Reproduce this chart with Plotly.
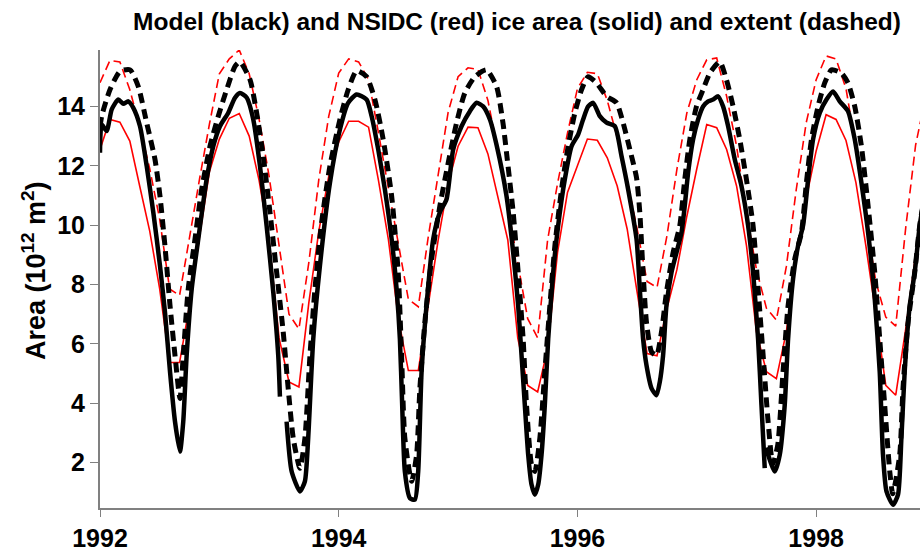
import plotly.graph_objects as go

# ---------------- NSIDC monthly data (Jan 1992 .. Dec 1998), 10^12 m^2 ----------------
nsidc_area = [
    12.55, 13.56, 13.47, 12.83, 11.3, 9.8, 7.85, 5.37, 5.37, 7.3, 9.6, 11.8,      # 1992
    12.9, 13.6, 13.76, 13.0, 11.5, 9.5, 6.2, 4.72, 4.55, 7.4, 9.8, 11.65,         # 1993
    12.8, 13.5, 13.5, 13.3, 11.5, 9.5, 6.85, 5.1, 5.1, 7.3, 9.5, 11.4,            # 1994
    12.66, 13.3, 13.28, 12.4, 10.9, 9.5, 6.2, 4.6, 4.38, 5.84, 9.08, 11.1,        # 1995
    12.0, 12.9, 12.86, 12.27, 11.32, 9.87, 7.74, 5.67, 5.6, 7.2, 8.5, 10.3,       # 1996
    11.9, 13.39, 13.28, 12.55, 11.32, 9.3, 6.4, 5.06, 4.83, 6.4, 8.9, 10.9,       # 1997
    12.5, 13.72, 13.56, 12.85, 11.43, 9.3, 7.0, 4.6, 4.27, 6.5, 9.0, 11.0,        # 1998
]
nsidc_extent = [
    14.8, 15.55, 15.5, 14.56, 13.3, 11.9, 10.2, 7.85, 7.63, 9.64, 11.54, 13.4,    # 1992
    15.1, 15.6, 15.9, 15.1, 13.56, 11.65, 9.4, 7.0, 6.5, 8.75, 11.54, 13.67,      # 1993
    15.12, 15.6, 15.5, 14.9, 13.1, 11.2, 9.3, 7.5, 7.25, 9.6, 11.7, 13.8,         # 1994
    15.0, 15.3, 15.25, 14.2, 12.5, 10.6, 8.7, 6.85, 6.2, 9.5, 11.4, 13.1,         # 1995
    14.6, 15.15, 15.1, 14.2, 12.95, 11.5, 9.87, 8.1, 7.9, 9.64, 11.88, 13.78,     # 1996
    14.9, 15.57, 15.63, 14.34, 12.66, 10.4, 8.5, 7.2, 6.8, 8.6, 11.2, 13.45,      # 1997
    14.9, 15.7, 15.6, 14.6, 12.6, 10.2, 8.1, 6.9, 6.6, 9.9, 12.7, 14.3,           # 1998
]
nsidc_month = list(range(len(nsidc_area)))  # months since Jan 1992

# ---------------- Model (months since Jan 1992, value), three run segments ----------------
model_area_m1 = [0.0, 0.17, 0.67, 1.18, 1.84, 2.34, 2.84, 3.35, 4.02, 4.69, 5.36, 6.03, 6.53,
                 7.04, 7.54, 8.04, 8.37, 8.71, 9.22, 9.88, 10.72, 11.39, 12.06, 12.89, 13.57,
                 14.07, 14.74, 15.41, 16.08, 16.75, 17.42, 17.92, 18.09]
model_area_v1 = [12.44, 13.39, 13.17, 13.9, 14.23, 14.09, 14.17, 13.95, 13.33, 12.0, 10.43, 8.63,
                 7.07, 5.06, 3.38, 2.37, 3.38, 5.6, 7.85, 9.53, 11.54, 12.66, 13.33, 13.78, 14.29,
                 14.45, 14.3, 13.56, 12.0, 9.98, 7.74, 5.61, 4.22]

model_area_m2 = [18.76, 19.27, 20.1, 20.6, 20.93, 21.44, 22.11, 23.12, 24.12, 24.95, 25.8, 26.8,
                 27.31, 27.97, 28.64, 29.32, 29.82, 30.15, 30.38, 30.65, 31.16, 31.66, 31.99,
                 32.33, 32.83, 33.5, 34.17, 34.84, 35.51, 36.35, 37.19, 37.86, 38.52, 39.2,
                 39.87, 40.87, 41.54, 42.04, 42.38, 42.71, 43.05, 43.39, 43.72, 44.05, 44.39,
                 44.72, 45.06, 45.56, 46.06, 46.73, 47.41, 48.07, 48.57, 49.08, 49.58, 50.25,
                 50.93, 51.76, 52.43, 53.1, 53.94, 54.27, 54.6, 54.94, 55.45, 55.95, 56.28,
                 56.61, 56.95, 57.46, 57.96, 58.46, 58.79, 59.13, 59.63, 60.13, 60.63, 61.14,
                 61.64, 62.14, 62.64, 63.15, 63.82, 64.49, 65.16, 65.66, 66.16, 66.5, 66.83]
model_area_v2 = [3.38, 1.7, 1.03, 1.37, 2.82, 6.17, 8.63, 11.43, 13.22, 14.12, 14.4, 14.23,
                 13.67, 12.55, 11.2, 9.53, 7.85, 6.17, 3.94, 1.7, 0.8, 0.75, 1.7,
                 5.06, 7.3, 9.53, 10.43, 10.87, 12.55, 13.33, 13.84, 14.12, 14.0, 13.56,
                 12.7, 10.98, 9.08, 7.29, 5.61, 3.94, 2.26, 1.25, 0.92, 1.25, 2.26,
                 3.94, 6.17, 8.41, 9.98, 11.54, 12.66, 13.05, 13.56, 14.0, 14.12, 13.67,
                 13.45, 13.33, 12.33, 11.2, 9.53, 7.85, 6.17, 5.28, 4.5, 4.27, 4.72,
                 5.61, 7.29, 8.41, 9.08, 9.75, 10.65, 11.77, 12.89, 13.56, 14.0, 14.17,
                 14.23, 14.34, 14.0, 13.33, 12.21, 11.32, 9.98, 8.41, 6.17, 3.94, 1.81]

model_area_m3 = [66.95, 67.84, 68.34, 68.84, 69.18, 69.68, 70.18, 70.68, 71.19, 71.69, 72.36,
                 73.04, 73.7, 74.37, 75.2, 75.88, 76.55, 77.22, 77.89, 78.39, 78.72, 79.07,
                 79.73, 80.23, 80.57, 80.9, 81.41, 81.91, 82.41, 82.9]
model_area_v3 = [2.5, 1.7, 2.26, 3.94, 6.17, 8.19, 9.3, 9.98, 11.54, 12.89, 13.78,
                 14.23, 14.5, 14.17, 13.84, 12.89, 11.43, 9.75, 7.52, 5.06, 2.26, 1.03,
                 0.58, 0.92, 2.82, 5.06, 7.29, 8.41, 9.98, 11.0]

model_extent_m = [0.0, 0.17, 1.0, 2.01, 3.02, 3.85, 4.69, 5.53, 6.03, 6.53, 7.04, 7.54, 8.04,
                  8.37, 8.87, 9.55, 10.22, 11.06, 11.89, 12.73, 13.57, 14.07, 15.08, 15.75,
                  16.41, 17.09, 17.76, 18.42, 18.92, 19.43, 20.1, 20.6, 21.11, 21.61, 22.28,
                  23.12, 24.12, 24.95, 25.8, 26.8, 27.64, 28.47, 29.32, 29.98, 30.32, 30.65,
                  31.33, 31.83, 32.16, 32.66, 33.34, 34.17, 35.01, 35.85, 36.68, 37.69, 38.86,
                  39.87, 40.53, 40.87, 41.54, 42.04, 42.54, 42.88, 43.39, 43.72, 44.22, 44.72,
                  45.23, 45.73, 46.4, 47.07, 47.74, 48.41, 49.08, 49.92, 50.93, 51.93, 52.59,
                  53.27, 53.94, 54.27, 54.6, 54.94, 55.45, 55.95, 56.45, 56.95, 57.62, 58.29,
                  58.79, 59.3, 59.97, 60.63, 61.31, 62.31, 62.98, 63.65, 64.32, 64.99, 65.66,
                  66.16, 66.67, 67.17, 67.64, 68.14, 68.67, 69.18, 69.85, 70.52, 71.02, 71.53,
                  72.19, 72.86, 73.54, 74.54, 75.2, 75.88, 76.55, 77.22, 77.89, 78.39, 78.89,
                  79.4, 79.7, 80.4, 80.73, 81.24, 81.91, 82.41, 82.91]
model_extent_v = [13.3, 13.67, 14.56, 15.18, 15.23, 14.67, 13.45, 12.21, 10.98, 9.3, 7.29, 5.61, 4.16,
                  5.61, 7.85, 9.53, 11.2, 12.66, 13.67, 14.56, 15.35, 15.5, 14.9, 13.78,
                  12.33, 10.43, 8.41, 6.4, 4.5, 2.82, 1.81, 2.82, 5.61, 7.85, 10.09,
                  12.0, 13.56, 14.56, 15.2, 15.0, 14.23, 12.89, 10.98, 8.41, 5.61, 2.82,
                  1.37, 2.26, 4.5, 6.73, 8.86, 10.65, 12.1, 13.45, 14.45, 15.0, 15.23,
                  14.67, 13.4, 12.44, 10.43, 8.41, 6.17, 3.94, 1.92, 1.7, 2.82, 5.06,
                  7.29, 9.3, 11.2, 12.66, 13.78, 14.56, 15.0, 14.79, 14.34, 14.12, 13.45,
                  12.55, 11.6, 10.43, 8.41, 6.73, 5.73, 5.61, 6.4, 7.74, 9.08, 9.98,
                  11.54, 12.89, 14.0, 14.56, 15.12, 15.5, 14.9, 14.0, 12.89, 11.54, 9.98,
                  7.85, 5.61, 3.38, 1.95, 2.6, 5.06, 7.29, 8.86, 9.75, 11.43, 12.89,
                  14.0, 14.79, 15.23, 15.12, 14.79, 14.0, 12.66, 10.65, 8.41, 6.17, 3.94,
                  1.7, 0.95, 2.26, 4.5, 6.73, 8.41, 9.98, 11.0]

START_YEAR = 1992


def to_year(months):
    return [START_YEAR + m / 12.0 for m in months]


def join_segments(segs):
    xs, ys = [], []
    for i, (m, v) in enumerate(segs):
        if i:
            xs.append(None)
            ys.append(None)
        xs += to_year(m)
        ys += v
    return xs, ys


area_x, area_y = join_segments([(model_area_m1, model_area_v1),
                                (model_area_m2, model_area_v2),
                                (model_area_m3, model_area_v3)])
nsidc_x = to_year(nsidc_month)

fig = go.Figure()
fig.add_trace(go.Scatter(x=nsidc_x, y=nsidc_extent, mode="lines",
                         line=dict(color="#ff0000", width=1.6, dash="9px,5px"),
                         name="NSIDC extent"))
fig.add_trace(go.Scatter(x=nsidc_x, y=nsidc_area, mode="lines",
                         line=dict(color="#ff0000", width=1.6),
                         name="NSIDC area"))
fig.add_trace(go.Scatter(x=to_year(model_extent_m), y=model_extent_v, mode="lines",
                         line=dict(color="black", width=5, dash="10px,6px", shape="spline", smoothing=0.6),
                         name="Model extent"))
fig.add_trace(go.Scatter(x=area_x, y=area_y, mode="lines", connectgaps=False,
                         line=dict(color="black", width=4.5, shape="spline", smoothing=0.6),
                         name="Model area"))

FAM = "Liberation Sans, Arial, sans-serif"
axis_font = dict(family=FAM, size=25, color="black", weight="bold")

fig.update_layout(
    width=920, height=552,
    margin=dict(l=100, r=0, t=50, b=42),
    paper_bgcolor="white", plot_bgcolor="white",
    showlegend=False,
    font=dict(family=FAM, size=22, color="black"),
    title=dict(text="<b>Model (black) and NSIDC (red) ice area (solid) and extent (dashed)</b>",
               x=517 / 920, xref="container", xanchor="center",
               y=1 - 21 / 552, yref="container", yanchor="middle",
               font=dict(family=FAM, size=24.5, color="black")),
    xaxis=dict(range=[1992, 1998.87], tickvals=[1992, 1994, 1996, 1998],
               ticktext=["1992", "1994", "1996", "1998"],
               showgrid=False, zeroline=False, showline=True, linecolor="#808080", linewidth=2,
               ticks="outside", ticklen=7, tickcolor="#808080", tickwidth=1,
               tickfont=axis_font),
    yaxis=dict(range=[0.47, 15.9], tickvals=[2, 4, 6, 8, 10, 12, 14],
               showgrid=False, zeroline=False, showline=True, linecolor="#808080", linewidth=2,
               ticks="outside", ticklen=8, tickcolor="#808080", tickwidth=1,
               tickfont=axis_font),
    annotations=[dict(text="<b>Area (10<sup>12</sup> m<sup>2</sup>)</b>", textangle=-90,
                      xref="paper", yref="paper", x=(34 - 100) / 820, y=(510 - 272) / 460,
                      xanchor="center", yanchor="middle", showarrow=False,
                      font=dict(family=FAM, size=27, color="black"))],
)

fig.write_html("out.html")
